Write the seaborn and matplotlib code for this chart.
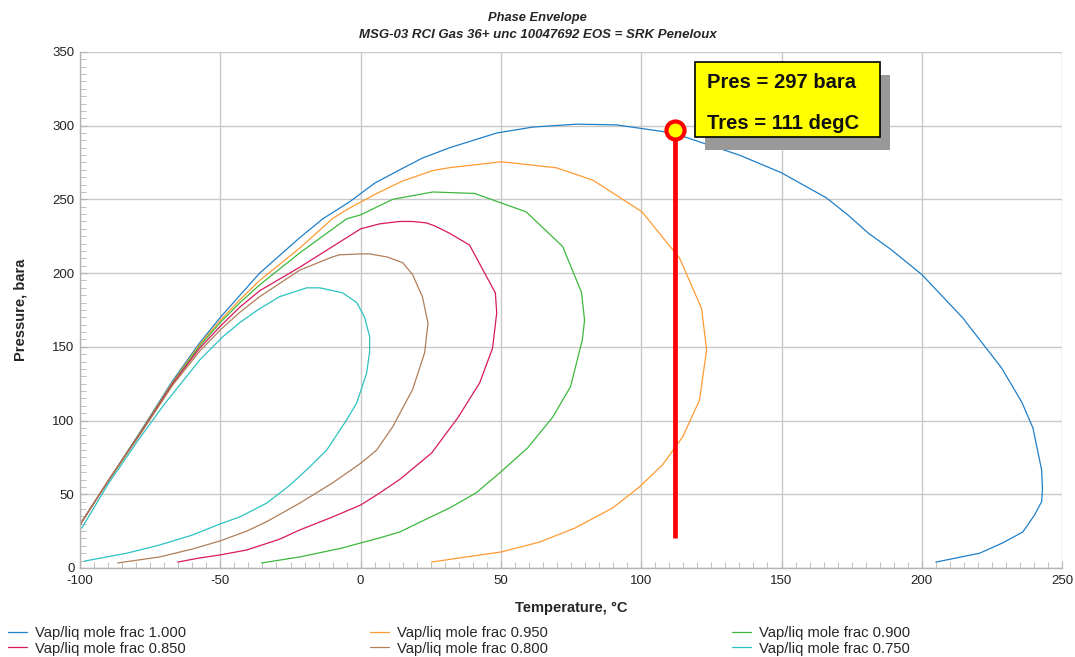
import numpy as np
import pandas as pd
import matplotlib
matplotlib.use("Agg")
import matplotlib.pyplot as plt
from matplotlib.patches import Rectangle
from matplotlib.ticker import MultipleLocator
import seaborn as sns

# ---------------- data ----------------
labels = ["Vap/liq mole frac 1.000", "Vap/liq mole frac 0.950", "Vap/liq mole frac 0.900",
          "Vap/liq mole frac 0.850", "Vap/liq mole frac 0.800", "Vap/liq mole frac 0.750"]

t_100 = [-100.5, -90, -78.8, -67, -57.4, -50, -43, -36, -21.7, -13.5, -3.9, 5, 13.9, 22, 31.7, 48.5, 61.3,
         77, 91.2, 107.6, 116, 135, 150, 166, 173.6, 181, 189, 200, 214.6, 228.4, 235.6, 239.6,
         242.7, 243, 242.7, 240.2, 236, 228.8, 220.6, 205]
p_100 = [28, 59, 91.6, 127, 152.6, 170, 185, 200, 224, 236.8, 248.4, 261, 270, 278, 285, 295, 299,
         301, 300.5, 296, 292, 280, 268, 251, 239.5, 227, 216, 199, 169.6, 135.7, 112.6, 95,
         66.5, 53, 45, 36, 24.4, 17, 10, 4]

t_095 = [-100.5, -90, -78.8, -67, -57.4, -50, -43, -36, -21.7, -10, -5, 5.7, 15, 25.7, 31.7, 50.2, 69.8,
         82.8, 100.3, 113.7, 121.5, 123.3, 120.8, 114.8, 107.6, 99.4, 89.8, 76.3, 63.8, 50.2, 37.7, 25.3]
p_095 = [28, 59, 91.2, 126, 151.5, 168, 182, 195, 217, 237, 243, 254, 262.5, 269.5, 271.5, 275.5, 271.4,
         263, 241.5, 210, 176, 148, 114, 89, 70, 55, 40.7, 27, 17.6, 10.9, 7.5, 4]

t_090 = [-100.5, -90, -78.8, -67, -57.4, -50, -43, -36, -21.7, -5, 0, 11.4, 25.7, 40.6, 59, 72, 78.7,
         79.8, 79, 74.8, 68.5, 59.5, 49.5, 41.2, 31.7, 22.8, 13.9, 6.8, 0, -6.4, -21.7, -35.3]
p_090 = [28, 59, 91, 125.5, 150.5, 166.5, 180, 192, 213.7, 236.8, 239.5, 250, 255, 254, 241.5, 218, 187,
         168, 154.7, 123, 102.4, 81.4, 64.4, 51, 40.7, 32.6, 24.4, 20.4, 17, 13.6, 7.5, 3.4]

t_085 = [-100.5, -90, -78.8, -67, -57.4, -50, -43, -36, -21.7, -10, 0, 6.8, 13.9, 18.5, 23.5, 26.4, 31.7,
         38.8, 48, 48.5, 47, 42.4, 34.6, 25.3, 13.9, 5.7, 0, -10, -21.7, -28.9, -40.6, -50.2,
         -57.4, -65.2]
p_085 = [28, 59, 90.5, 125, 149, 164, 177, 188, 204, 218, 230, 233.4, 235, 235, 234, 232, 227,
         219, 186.6, 173, 149, 125.5, 101.8, 78, 60, 49.5, 42.7, 34.6, 25.8, 19.5, 12.2, 8.8,
         6.8, 4]

t_080 = [-100.5, -90, -78.8, -67, -57.4, -50, -43, -36, -21.7, -10, -7.5, 0, 3.2, 9.3, 15, 18.5, 22,
         24, 22.8, 18.5, 11.4, 5.7, 0, -10, -21.7, -33.5, -40.6, -50.2, -59.9, -71.6, -86.6]
p_080 = [28, 59, 90, 124, 147, 161.5, 173.5, 184, 202, 211, 212.4, 213, 213, 211, 207, 199, 184,
         166, 146, 121, 95.7, 80, 71, 57.7, 44, 31.4, 25, 18.3, 12.9, 7.5, 3.4]

t_075 = [-99.4, -90, -78.8, -70, -62, -57.4, -49.2, -43, -36.7, -28.9, -19.2, -14.6, -6.4, -1.4, 1.4,
         3.2, 3.2, 2.1, -1.4, -5, -12.1, -18.2, -25.3, -33.5, -43.1, -50.2, -59.9, -71.6, -83.4, -98.4]
p_075 = [27, 57, 88, 111, 130, 141, 156.7, 166.5, 175, 184, 190, 190, 186.6, 180, 170,
         157, 146.6, 132, 112, 100.4, 80, 68.5, 56, 44, 34.6, 29.8, 22.4, 15.6, 10, 4.7]

res_P = 297
res_T = 111
res_line_bottom_P = 20
res_marker_T = 112

series_T = [t_100, t_095, t_090, t_085, t_080, t_075]
series_P = [p_100, p_095, p_090, p_085, p_080, p_075]

frames = []
for lab, tt, pp in zip(labels, series_T, series_P):
    frames.append(pd.DataFrame({"T": tt, "P": pp, "series": lab, "order": np.arange(len(tt))}))
df = pd.concat(frames, ignore_index=True)

colors = ["#1f7fc8", "#ff9a33", "#3cb83c", "#d8195e", "#b07e58", "#2cc2c2"]
palette = dict(zip(labels, colors))

# ---------------- plot ----------------
sns.set_theme(style="white")
plt.rcParams["font.family"] = ["Liberation Sans", "DejaVu Sans"]
plt.rcParams["axes.unicode_minus"] = False

fig = plt.figure(figsize=(10.75, 6.57), dpi=100)
ax = fig.add_axes([0.0745, 0.1355, 0.9135, 0.7855])

sns.lineplot(data=df, x="T", y="P", hue="series", palette=palette, sort=False,
             estimator=None, linewidth=0.9, ax=ax, legend=True)

ax.set_xlim(-100, 250)
ax.set_ylim(0, 350)
ax.xaxis.set_major_locator(MultipleLocator(50))
ax.xaxis.set_minor_locator(MultipleLocator(5))
ax.yaxis.set_major_locator(MultipleLocator(50))
ax.yaxis.set_minor_locator(MultipleLocator(5))
ax.grid(True, which="major", color="#c8c8c8", linewidth=1.0)
ax.set_axisbelow(True)
for s in ["top", "right"]:
    ax.spines[s].set_visible(False)
for s in ["left", "bottom"]:
    ax.spines[s].set_color("#b4b4b4")
    ax.spines[s].set_linewidth(1.0)
ax.tick_params(axis="both", which="both", direction="in", color="#b4b4b4",
               labelsize=9.5, labelcolor="#222222")
ax.tick_params(which="major", length=5, width=0.8)
ax.tick_params(which="minor", length=4, width=0.6)
ax.tick_params(axis="x", which="both", bottom=True, pad=5)
ax.tick_params(axis="y", which="both", left=True, pad=4)

ax.set_xlabel("Temperature, °C", fontsize=10.5, fontweight="bold", labelpad=10)
ax.set_ylabel("Pressure, bara", fontsize=10.5, fontweight="bold", labelpad=18)

fig.text(0.5, 0.972, "Phase Envelope", ha="center", va="center",
         fontsize=9.3, fontweight="bold", style="italic")
fig.text(0.5, 0.947, "MSG-03 RCI Gas 36+ unc 10047692 EOS = SRK Peneloux", ha="center",
         va="center", fontsize=9.5, fontweight="bold", style="italic")

# reservoir marker line
ax.plot([res_marker_T, res_marker_T], [res_line_bottom_P, res_P], color="#ff0000",
        linewidth=3.4, solid_capstyle="butt", zorder=5)
ax.plot([res_marker_T], [res_P], marker="o", markersize=13, markerfacecolor="#ffff00",
        markeredgecolor="#ff0000", markeredgewidth=3, zorder=6)

# annotation box with shadow
box_x, box_y, box_w, box_h = 119.2, 292.5, 65.8, 50.5
ax.add_patch(Rectangle((box_x + 3.6, box_y - 8.8), box_w, box_h, facecolor="#999999",
                       edgecolor="none", zorder=7))
ax.add_patch(Rectangle((box_x, box_y), box_w, box_h, facecolor="#ffff00",
                       edgecolor="#000000", linewidth=1.2, zorder=8))
ax.text(box_x + 4.3, 329.5, f"Pres = {res_P} bara", fontsize=14.5, fontweight="bold",
        va="center", ha="left", zorder=9, color="#111111")
ax.text(box_x + 4.3, 301.5, f"Tres = {res_T} degC", fontsize=14.5, fontweight="bold",
        va="center", ha="left", zorder=9, color="#111111")

# legend
handles, labs = ax.get_legend_handles_labels()
ax.get_legend().remove()
hmap = dict(zip(labs, handles))
order = [labels[0], labels[3], labels[1], labels[4], labels[2], labels[5]]
fig.legend([hmap[l] for l in order], order, ncol=3, loc="lower left",
           bbox_to_anchor=(0.006, 0.0, 0.842, 0.057), mode="expand", frameon=False,
           fontsize=10.6, handlelength=1.3, handletextpad=0.55, labelspacing=0.12,
           borderaxespad=0.0, borderpad=0.1)

fig.savefig("out.png", dpi=100)
